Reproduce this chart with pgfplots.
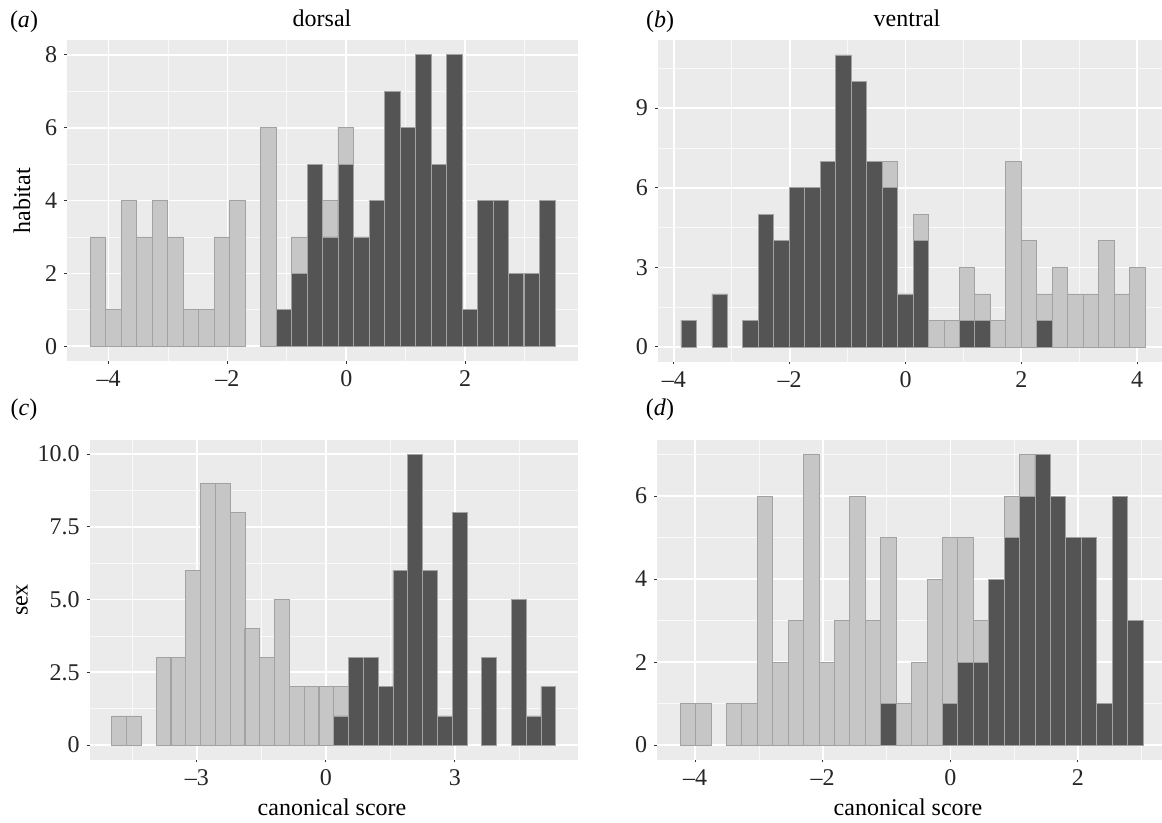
\documentclass[border=0pt]{standalone}
\usepackage{fontspec}
\setmainfont{Liberation Serif}
\usepackage{pgfplots}
\usepackage{pgfplotstable}
\pgfplotsset{compat=1.18}

\definecolor{panelbg}{HTML}{EBEBEB}
\definecolor{lightbar}{HTML}{C6C6C6}
\definecolor{darkbar}{HTML}{545454}
\definecolor{barline}{HTML}{A2A2A2}
\definecolor{tickgray}{HTML}{333333}

\pgfplotsset{
  gghist/.style={
    scale only axis,
    anchor=south west,
    ybar stacked,
    axis background/.style={fill=panelbg},
    axis line style={draw=none},
    tick pos=left,
    tick align=outside,
    major tick length=1.4pt,
    minor tick length=0pt,
    tick style={tickgray, line width=0.5pt},
    grid=both,
    major grid style={white, line width=0.85pt},
    minor grid style={white!70!panelbg, line width=0.4pt},
    tick label style={font=\fontsize{12}{12}\selectfont, text=black!85},
    /pgf/number format/assume math mode=true,
    every axis plot/.append style={draw=barline, line width=0.4pt},
  },
}

% (a) dorsal / habitat
\pgfplotstableread{
x dark light
-4.180 0 3
-3.919 0 1
-3.658 0 4
-3.398 0 3
-3.137 0 4
-2.876 0 3
-2.616 0 1
-2.355 0 1
-2.094 0 3
-1.833 0 4
-1.573 0 0
-1.312 0 6
-1.051 1 0
-0.791 2 1
-0.530 5 0
-0.269 3 1
-0.009 5 1
0.252 3 0
0.513 4 0
0.774 7 0
1.034 6 0
1.295 8 0
1.556 5 0
1.816 8 0
2.077 1 0
2.338 4 0
2.599 4 0
2.859 2 0
3.120 2 0
3.381 4 0
}\tA

% (b) ventral / habitat
\pgfplotstableread{
x dark light
-3.744 1 0
-3.476 0 0
-3.209 2 0
-2.942 0 0
-2.675 1 0
-2.408 5 0
-2.141 4 0
-1.874 6 0
-1.607 6 0
-1.340 7 0
-1.073 11 0
-0.805 10 0
-0.538 7 0
-0.271 6 1
-0.004 2 0
0.263 4 1
0.530 0 1
0.797 0 1
1.064 1 2
1.331 1 1
1.599 0 1
1.866 0 7
2.133 0 4
2.400 1 1
2.667 0 3
2.934 0 2
3.201 0 2
3.468 0 4
3.735 0 2
4.002 0 3
}\tB

% (c) dorsal / sex
\pgfplotstableread{
x dark light
-4.812 0 1
-4.468 0 1
-4.124 0 0
-3.779 0 3
-3.435 0 3
-3.091 0 6
-2.747 0 9
-2.403 0 9
-2.058 0 8
-1.714 0 4
-1.370 0 3
-1.026 0 5
-0.682 0 2
-0.337 0 2
0.007 0 2
0.351 1 1
0.695 3 0
1.040 3 0
1.384 2 0
1.728 6 0
2.072 10 0
2.416 6 0
2.761 1 0
3.105 8 0
3.449 0 0
3.793 3 0
4.137 0 0
4.482 5 0
4.826 1 0
5.170 2 0
}\tC

% (d) ventral / sex
\pgfplotstableread{
x dark light
-4.114 0 1
-3.872 0 1
-3.631 0 0
-3.389 0 1
-3.147 0 1
-2.905 0 6
-2.663 0 2
-2.422 0 3
-2.180 0 7
-1.938 0 2
-1.696 0 3
-1.454 0 6
-1.213 0 3
-0.971 1 4
-0.729 0 1
-0.487 0 2
-0.245 0 4
-0.004 1 4
0.238 2 3
0.480 2 1
0.722 4 0
0.964 5 1
1.206 6 1
1.447 7 0
1.689 6 0
1.931 5 0
2.173 5 0
2.415 1 0
2.656 6 0
2.898 3 0
}\tD

\begin{document}
\begin{tikzpicture}
\path[use as bounding box] (0,0) rectangle (581pt,-411.5pt);

\begin{axis}[gghist, at={(33.5pt,-180.4pt)}, width=255.5pt, height=160.3pt,
  xmin=-4.70, xmax=3.90, ymin=-0.4, ymax=8.4, bar width=0.2607,
  xtick={-4,-2,0,2}, xticklabels={–4,–2,0,2}, minor xtick={-3,-1,1,3},
  ytick={0,2,4,6,8}, minor ytick={1,3,5,7}]
\addplot[fill=darkbar] table[x=x,y=dark]{\tA};
\addplot[fill=lightbar] table[x=x,y=light]{\tA};
\end{axis}

\begin{axis}[gghist, at={(328.9pt,-180.8pt)}, width=252.1pt, height=160.6pt,
  xmin=-4.278, xmax=4.43, ymin=-0.55, ymax=11.55, bar width=0.2671,
  xtick={-4,-2,0,2,4}, xticklabels={–4,–2,0,2,4}, minor xtick={-3,-1,1,3},
  ytick={0,3,6,9}, minor ytick={1.5,4.5,7.5,10.5}]
\addplot[fill=darkbar] table[x=x,y=dark]{\tB};
\addplot[fill=lightbar] table[x=x,y=light]{\tB};
\end{axis}

\begin{axis}[gghist, at={(44.75pt,-379.8pt)}, width=244.2pt, height=160pt,
  xmin=-5.50, xmax=5.858, ymin=-0.5, ymax=10.5, bar width=0.3442,
  xtick={-3,0,3}, xticklabels={–3,0,3}, minor xtick={-4.5,-1.5,1.5,4.5},
  ytick={0,2.5,5,7.5,10}, yticklabels={0,2.5,5.0,7.5,10.0},
  minor ytick={1.25,3.75,6.25,8.75}]
\addplot[fill=darkbar] table[x=x,y=dark]{\tC};
\addplot[fill=lightbar] table[x=x,y=light]{\tC};
\end{axis}

\begin{axis}[gghist, at={(328.5pt,-379.8pt)}, width=252.5pt, height=159.8pt,
  xmin=-4.597, xmax=3.317, ymin=-0.35, ymax=7.35, bar width=0.2418,
  xtick={-4,-2,0,2}, xticklabels={–4,–2,0,2}, minor xtick={-3,-1,1,3},
  ytick={0,2,4,6}, minor ytick={1,3,5,7}]
\addplot[fill=darkbar] table[x=x,y=dark]{\tD};
\addplot[fill=lightbar] table[x=x,y=light]{\tD};
\end{axis}

\begin{scope}[x=0.5pt, y=-0.5pt, every node/.style={inner sep=0pt, font=\fontsize{12}{12}\selectfont}]
\node at (24,22) {(\textit{a})};
\node at (322,18) {dorsal};
\node at (660,22) {(\textit{b})};
\node at (907,18) {ventral};
\node at (24,410) {(\textit{c})};
\node at (660,410) {(\textit{d})};
\node[rotate=90] at (22,201) {habitat};
\node[rotate=90] at (22,600) {sex};
\node at (332,807) {canonical score};
\node at (908,807) {canonical score};
\end{scope}
\end{tikzpicture}
\end{document}
